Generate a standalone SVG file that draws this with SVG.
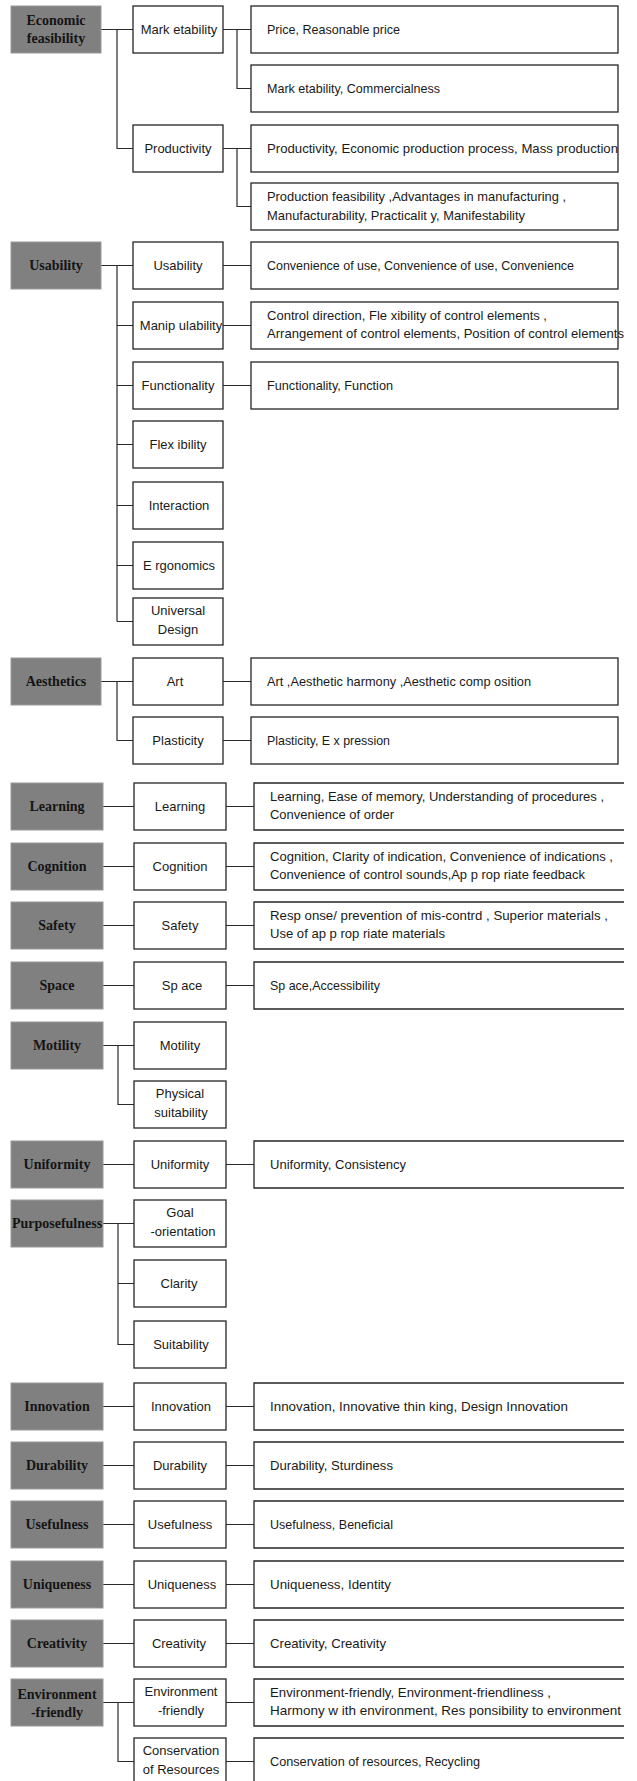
<svg xmlns="http://www.w3.org/2000/svg" width="637" height="1781" viewBox="0 0 637 1781">
<style>
.g{fill:#808080;stroke:#9a9a9a;stroke-width:1}
.b{fill:#fff;stroke:#262626;stroke-width:1.3}
.d{fill:#fff;stroke:#262626;stroke-width:1.3}
.o{fill:#fff;stroke:#262626;stroke-width:1.3}
.gt{font-family:"Liberation Serif","Times New Roman",serif;font-weight:bold;font-size:14px;fill:#141414;text-anchor:middle}
.bt{font-family:"Liberation Sans",Arial,sans-serif;font-size:13px;fill:#1a1a1a;text-anchor:middle}
.dt{font-family:"Liberation Sans",Arial,sans-serif;font-size:13px;fill:#1a1a1a}
.c{fill:none;stroke:#2a2a2a;stroke-width:1.2}
</style>
<rect width="637" height="1781" fill="#fff"/>

<g id="connectors">
<path class="c" d="M101 29.5H133M117 29.5V148.5H133M223 29.5H251M237 29.5V88.5H251M223 148.5H251M237 148.5V206.5H251"/>
<path class="c" d="M101 265.5H133M117 265.5V621.5M117 325.5H133M117 385.5H133M117 444.5H133M117 505.5H133M117 565.5H133M117 621.5H133M223 265.5H251M223 325.5H251M223 385.5H251"/>
<path class="c" d="M101 681.5H133M117 681.5V740.5H133M223 681.5H251M223 740.5H251"/>
<path class="c" d="M103 806.5H134M226 806.5H254M103 866.5H134M226 866.5H254M103 925.5H134M226 925.5H254M103 985.5H134M226 985.5H254"/>
<path class="c" d="M103 1045.5H134M118 1045.5V1104.5H134M103 1164.5H134M226 1164.5H254M103 1223.5H134M118 1223.5V1344.5H134M118 1283.5H134"/>
<path class="c" d="M103 1406.5H134M226 1406.5H254M103 1465.5H134M226 1465.5H254M103 1524.5H134M226 1524.5H254M103 1584.5H134M226 1584.5H254M103 1643.5H134M226 1643.5H254M103 1702.5H134M118 1702.5V1761.5H134M226 1702.5H254M226 1761.5H254"/>
</g>

<g id="economic-feasibility">
<rect class="g" x="11" y="6" width="90" height="47"/>
<text class="gt" x="56" y="25.2">Economic</text>
<text class="gt" x="56" y="42.8">feasibility</text>
</g>
<g id="marketability">
<rect class="b" x="133" y="6" width="90" height="47"/>
<text class="bt" x="179" y="34">Mark etability</text>
</g>
<g id="price">
<rect class="d" x="251" y="6" width="367" height="47"/>
<text class="dt" x="267" y="34" textLength="133" lengthAdjust="spacingAndGlyphs">Price, Reasonable  price</text>
</g>
<g id="commercialness">
<rect class="d" x="251" y="65" width="367" height="47"/>
<text class="dt" x="267" y="93" textLength="173" lengthAdjust="spacingAndGlyphs">Mark etability, Commercialness</text>
</g>
<g id="productivity">
<rect class="b" x="133" y="125" width="90" height="47"/>
<text class="bt" x="178" y="153">Productivity</text>
</g>
<g id="mass-production">
<rect class="d" x="251" y="125" width="367" height="47"/>
<text class="dt" x="267" y="153" textLength="351" lengthAdjust="spacingAndGlyphs">Productivity, Economic  production  process, Mass  production</text>
</g>
<g id="production-feasibility">
<rect class="d" x="251" y="183" width="367" height="47"/>
<text class="dt" x="267" y="201" textLength="299" lengthAdjust="spacingAndGlyphs">Production feasibility ,Advantages in manufacturing ,</text>
<text class="dt" x="267" y="219.5" textLength="258" lengthAdjust="spacingAndGlyphs">Manufacturability, Practicalit y, Manifestability</text>
</g>

<g id="usability-group">
<rect class="g" x="11" y="242" width="90" height="47"/>
<text class="gt" x="56" y="270">Usability</text>
</g>
<g id="usability">
<rect class="b" x="133" y="242" width="90" height="47"/>
<text class="bt" x="178" y="270">Usability</text>
</g>
<g id="convenience">
<rect class="d" x="251" y="242" width="367" height="47"/>
<text class="dt" x="267" y="270" textLength="307" lengthAdjust="spacingAndGlyphs">Convenience of use, Convenience of use, Convenience</text>
</g>
<g id="manipulability">
<rect class="b" x="133" y="302" width="90" height="47"/>
<text class="bt" x="181" y="330">Manip ulability</text>
</g>
<g id="control-direction">
<rect class="d" x="251" y="302" width="367" height="47"/>
<text class="dt" x="267" y="319.5" textLength="280" lengthAdjust="spacingAndGlyphs">Control direction, Fle xibility of control elements ,</text>
<text class="dt" x="267" y="338" textLength="357" lengthAdjust="spacingAndGlyphs">Arrangement of control elements, Position of control elements</text>
</g>
<g id="functionality">
<rect class="b" x="133" y="362" width="90" height="47"/>
<text class="bt" x="178" y="390">Functionality</text>
</g>
<g id="function">
<rect class="d" x="251" y="362" width="367" height="47"/>
<text class="dt" x="267" y="390" textLength="126" lengthAdjust="spacingAndGlyphs">Functionality, Function</text>
</g>
<g id="flexibility">
<rect class="b" x="133" y="421" width="90" height="47"/>
<text class="bt" x="178" y="449">Flex ibility</text>
</g>
<g id="interaction">
<rect class="b" x="133" y="482" width="90" height="47"/>
<text class="bt" x="179" y="510">Interaction</text>
</g>
<g id="ergonomics">
<rect class="b" x="133" y="542" width="90" height="47"/>
<text class="bt" x="179" y="570">E rgonomics</text>
</g>
<g id="universal-design">
<rect class="b" x="133" y="598" width="90" height="47"/>
<text class="bt" x="178" y="615">Universal</text>
<text class="bt" x="178" y="634">Design</text>
</g>

<g id="aesthetics">
<rect class="g" x="11" y="658" width="90" height="47"/>
<text class="gt" x="56" y="686">Aesthetics</text>
</g>
<g id="art">
<rect class="b" x="133" y="658" width="90" height="47"/>
<text class="bt" x="175" y="686">Art</text>
</g>
<g id="aesthetic-harmony">
<rect class="d" x="251" y="658" width="367" height="47"/>
<text class="dt" x="267" y="686" textLength="264" lengthAdjust="spacingAndGlyphs">Art ,Aesthetic harmony ,Aesthetic comp osition</text>
</g>
<g id="plasticity">
<rect class="b" x="133" y="717" width="90" height="47"/>
<text class="bt" x="178" y="745">Plasticity</text>
</g>
<g id="expression">
<rect class="d" x="251" y="717" width="367" height="47"/>
<text class="dt" x="267" y="745" textLength="123" lengthAdjust="spacingAndGlyphs">Plasticity, E x pression</text>
</g>

<g id="learning-group">
<rect class="g" x="11" y="783" width="92" height="47"/>
<text class="gt" x="57" y="811">Learning</text>
</g>
<g id="learning">
<rect class="b" x="134" y="783" width="92" height="47"/>
<text class="bt" x="180" y="811">Learning</text>
</g>
<g id="ease-of-memory">
<path class="o" d="M624 783H254V830H624"/>
<text class="dt" x="270" y="800.5" textLength="334" lengthAdjust="spacingAndGlyphs">Learning, Ease of memory, Understanding of  procedures ,</text>
<text class="dt" x="270" y="819" textLength="124" lengthAdjust="spacingAndGlyphs">Convenience of order</text>
</g>

<g id="cognition-group">
<rect class="g" x="11" y="843" width="92" height="47"/>
<text class="gt" x="57" y="871">Cognition</text>
</g>
<g id="cognition">
<rect class="b" x="134" y="843" width="92" height="47"/>
<text class="bt" x="180" y="871">Cognition</text>
</g>
<g id="clarity-of-indication">
<path class="o" d="M624 843H254V890H624"/>
<text class="dt" x="270" y="860.5" textLength="343" lengthAdjust="spacingAndGlyphs">Cognition, Clarity of indication, Convenience of indications ,</text>
<text class="dt" x="270" y="879" textLength="315" lengthAdjust="spacingAndGlyphs">Convenience of control sounds,Ap p rop riate feedback</text>
</g>

<g id="safety-group">
<rect class="g" x="11" y="902" width="92" height="47"/>
<text class="gt" x="57" y="930">Safety</text>
</g>
<g id="safety">
<rect class="b" x="134" y="902" width="92" height="47"/>
<text class="bt" x="180" y="930">Safety</text>
</g>
<g id="superior-materials">
<path class="o" d="M624 902H254V949H624"/>
<text class="dt" x="270" y="919.5" textLength="338" lengthAdjust="spacingAndGlyphs">Resp onse/ prevention of mis-contrd ,  Superior materials ,</text>
<text class="dt" x="270" y="938" textLength="175" lengthAdjust="spacingAndGlyphs">Use of ap p rop riate materials</text>
</g>

<g id="space-group">
<rect class="g" x="11" y="962" width="92" height="47"/>
<text class="gt" x="57" y="990">Space</text>
</g>
<g id="space">
<rect class="b" x="134" y="962" width="92" height="47"/>
<text class="bt" x="182" y="990">Sp ace</text>
</g>
<g id="accessibility">
<path class="o" d="M624 962H254V1009H624"/>
<text class="dt" x="270" y="990" textLength="110" lengthAdjust="spacingAndGlyphs">Sp ace,Accessibility</text>
</g>

<g id="motility-group">
<rect class="g" x="11" y="1022" width="92" height="47"/>
<text class="gt" x="57" y="1050">Motility</text>
</g>
<g id="motility">
<rect class="b" x="134" y="1022" width="92" height="47"/>
<text class="bt" x="180" y="1050">Motility</text>
</g>
<g id="physical-suitability">
<rect class="b" x="134" y="1081" width="92" height="47"/>
<text class="bt" x="180" y="1098">Physical</text>
<text class="bt" x="181" y="1117">suitability</text>
</g>

<g id="uniformity-group">
<rect class="g" x="11" y="1141" width="92" height="47"/>
<text class="gt" x="57" y="1169">Uniformity</text>
</g>
<g id="uniformity">
<rect class="b" x="134" y="1141" width="92" height="47"/>
<text class="bt" x="180" y="1169">Uniformity</text>
</g>
<g id="consistency">
<path class="o" d="M624 1141H254V1188H624"/>
<text class="dt" x="270" y="1169" textLength="136" lengthAdjust="spacingAndGlyphs">Uniformity, Consistency</text>
</g>

<g id="purposefulness">
<rect class="g" x="11" y="1200" width="92" height="47"/>
<text class="gt" x="57" y="1228">Purposefulness</text>
</g>
<g id="goal-orientation">
<rect class="b" x="134" y="1200" width="92" height="47"/>
<text class="bt" x="180" y="1217">Goal</text>
<text class="bt" x="183" y="1236">-orientation</text>
</g>
<g id="clarity">
<rect class="b" x="134" y="1260" width="92" height="47"/>
<text class="bt" x="179" y="1288">Clarity</text>
</g>
<g id="suitability">
<rect class="b" x="134" y="1321" width="92" height="47"/>
<text class="bt" x="181" y="1349">Suitability</text>
</g>

<g id="innovation-group">
<rect class="g" x="11" y="1383" width="92" height="47"/>
<text class="gt" x="57" y="1411">Innovation</text>
</g>
<g id="innovation">
<rect class="b" x="134" y="1383" width="92" height="47"/>
<text class="bt" x="181" y="1411">Innovation</text>
</g>
<g id="design-innovation">
<path class="o" d="M624 1383H254V1430H624"/>
<text class="dt" x="270" y="1411" textLength="298" lengthAdjust="spacingAndGlyphs">Innovation, Innovative thin king, Design Innovation</text>
</g>

<g id="durability-group">
<rect class="g" x="11" y="1442" width="92" height="47"/>
<text class="gt" x="57" y="1470">Durability</text>
</g>
<g id="durability">
<rect class="b" x="134" y="1442" width="92" height="47"/>
<text class="bt" x="180" y="1470">Durability</text>
</g>
<g id="sturdiness">
<path class="o" d="M624 1442H254V1489H624"/>
<text class="dt" x="270" y="1470" textLength="123" lengthAdjust="spacingAndGlyphs">Durability, Sturdiness</text>
</g>

<g id="usefulness-group">
<rect class="g" x="11" y="1501" width="92" height="47"/>
<text class="gt" x="57" y="1529">Usefulness</text>
</g>
<g id="usefulness">
<rect class="b" x="134" y="1501" width="92" height="47"/>
<text class="bt" x="180" y="1529">Usefulness</text>
</g>
<g id="beneficial">
<path class="o" d="M624 1501H254V1548H624"/>
<text class="dt" x="270" y="1529" textLength="123" lengthAdjust="spacingAndGlyphs">Usefulness, Beneficial</text>
</g>

<g id="uniqueness-group">
<rect class="g" x="11" y="1561" width="92" height="47"/>
<text class="gt" x="57" y="1589">Uniqueness</text>
</g>
<g id="uniqueness">
<rect class="b" x="134" y="1561" width="92" height="47"/>
<text class="bt" x="182" y="1589">Uniqueness</text>
</g>
<g id="identity">
<path class="o" d="M624 1561H254V1608H624"/>
<text class="dt" x="270" y="1589" textLength="121" lengthAdjust="spacingAndGlyphs">Uniqueness, Identity</text>
</g>

<g id="creativity-group">
<rect class="g" x="11" y="1620" width="92" height="47"/>
<text class="gt" x="57" y="1648">Creativity</text>
</g>
<g id="creativity">
<rect class="b" x="134" y="1620" width="92" height="47"/>
<text class="bt" x="179" y="1648">Creativity</text>
</g>
<g id="creativity-desc">
<path class="o" d="M624 1620H254V1667H624"/>
<text class="dt" x="270" y="1648" textLength="116" lengthAdjust="spacingAndGlyphs">Creativity, Creativity</text>
</g>

<g id="environment-friendly-group">
<rect class="g" x="11" y="1679" width="92" height="47"/>
<text class="gt" x="57" y="1699">Environment</text>
<text class="gt" x="57" y="1717">-friendly</text>
</g>
<g id="environment-friendly">
<rect class="b" x="134" y="1679" width="92" height="47"/>
<text class="bt" x="181" y="1696">Environment</text>
<text class="bt" x="181" y="1715">-friendly</text>
</g>
<g id="harmony-with-environment">
<path class="o" d="M624 1679H254V1726H624"/>
<text class="dt" x="270" y="1696.5" textLength="281" lengthAdjust="spacingAndGlyphs">Environment-friendly, Environment-friendliness ,</text>
<text class="dt" x="270" y="1715" textLength="351" lengthAdjust="spacingAndGlyphs">Harmony w ith environment, Res ponsibility to environment</text>
</g>
<g id="conservation-of-resources">
<rect class="b" x="134" y="1738" width="92" height="47"/>
<text class="bt" x="181" y="1755">Conservation</text>
<text class="bt" x="181" y="1774">of Resources</text>
</g>
<g id="recycling">
<path class="o" d="M624 1738H254V1785H624"/>
<text class="dt" x="270" y="1766" textLength="210" lengthAdjust="spacingAndGlyphs">Conservation of resources, Recycling</text>
</g>
</svg>
